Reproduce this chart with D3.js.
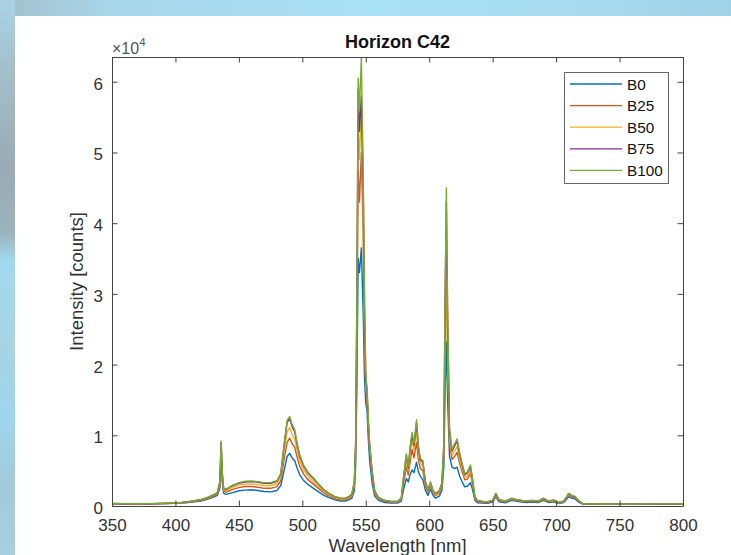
<!DOCTYPE html>
<html><head><meta charset="utf-8">
<script src="https://cdn.jsdelivr.net/npm/d3@7"></script>
<style>html,body{margin:0;padding:0;background:#fff;}svg{display:block;}text{font-family:"Liberation Sans",Arial,Helvetica,sans-serif;}</style>
</head><body>
<svg id="c" width="731" height="555"></svg>
<script>
const wavelengths = [350,360,370,380,390,400,405,410,415,420,
425,430,433,435,436,437,438,440,445,450,
455,460,465,470,475,480,483,486,488,490,
492,494,496,498,501,504,508,512,516,520,
525,530,534,537,539,541,542,543,544,545,
546.5,548,549,550,551,552,553,555,557,560,
565,570,575,578,580,582,583.5,585,586.5,588,
590,591.5,593,595,597,599,601,603,605,608,
610,611.5,612.5,613.5,614.5,616,618,620,622,624,
626,628,630,632.5,634,636,638,642,646,650,
652.5,655,660,665,669,673,677,681,686,690,
694,698,702,706,710,712.5,715,718,721,725,
735,750,765,780,790,800];

const B0 = [300,290,280,290,320,380,430,500,600,700,
950,1250,1500,2500,7000,3200,1800,1650,1900,2150,
2250,2300,2200,2050,2000,2200,2900,5300,7000,7450,
6800,6400,5300,4400,3600,3100,2600,2100,1600,1250,
900,700,700,900,1100,2200,5500,17000,35000,33000,
36500,27000,18000,14500,13500,9500,6500,3200,1400,800,
500,400,420,700,2500,3900,3400,4500,5100,4700,
6200,4800,4200,3700,2200,1500,2400,1500,1100,1400,
2200,5500,16000,23200,15000,7000,5500,5300,5500,4200,
3400,2700,2800,3300,2400,850,450,400,380,550,
1300,600,450,800,650,550,500,550,480,800,
500,600,350,500,1300,1100,1000,500,280,250,
240,240,240,230,230,230];

const B25 = [320,300,290,300,340,400,460,540,650,780,
1050,1400,1650,2900,7500,3700,2100,1950,2350,2600,
2750,2750,2650,2500,2500,2750,3600,7000,9000,9600,
8800,8300,6800,5600,4500,3800,3200,2600,2000,1500,
1100,850,850,1100,1350,2800,7000,23000,47500,43000,
50000,38000,23000,16400,15000,11000,8000,4200,1800,1000,
650,520,530,900,3400,5500,4400,6300,8000,6800,
9000,6500,5300,5000,2800,1900,2900,1900,1450,1800,
2700,7000,23000,34000,21000,8800,6600,7000,7600,6000,
4800,3700,3800,4600,3200,1050,620,520,500,650,
1500,750,570,950,780,680,620,680,590,950,
600,720,420,600,1550,1300,1150,600,310,270,
260,255,255,245,245,245];

const B50 = [335,315,305,315,360,425,490,580,700,840,
1120,1500,1780,3200,8500,4100,2300,2150,2650,2950,
3100,3120,3030,2900,2900,3150,4100,8200,10500,11100,
10100,9500,7800,6400,5100,4300,3600,2900,2200,1680,
1250,970,970,1250,1500,3100,8000,26500,54000,49000,
56000,40000,25000,17000,15600,11500,8500,4600,2000,1100,
720,580,590,1000,3900,6500,5000,7400,9300,7900,
10700,7500,6000,5700,3100,2050,3100,2000,1600,2000,
3000,7500,24000,35500,22000,9500,7200,7800,8400,6600,
5300,4100,4200,5100,3500,1150,700,580,550,720,
1650,820,630,1020,830,730,680,730,640,1020,
650,780,460,650,1650,1400,1250,650,330,285,
270,262,262,252,252,252];

const B75 = [345,325,315,325,375,445,510,610,735,880,
1180,1570,1860,3400,9000,4400,2450,2330,2870,3200,
3400,3450,3350,3200,3200,3500,4500,9100,11800,12400,
11200,10500,8600,7000,5650,4750,4000,3200,2430,1850,
1360,1070,1070,1360,1650,3400,8800,29000,59000,53000,
58000,45000,28000,18000,16200,11800,8800,4900,2150,1170,
780,630,630,1100,4300,7100,5400,8200,10100,8600,
11800,8200,6500,6200,3400,2230,3300,2150,1750,2150,
3200,8600,28500,43000,26500,10500,7800,8500,9200,7300,
5800,4450,4650,5600,3900,1270,780,630,600,780,
1750,870,680,1070,870,780,730,780,680,1070,
680,830,490,680,1750,1450,1300,680,340,295,
275,266,266,256,256,256];

const B100 = [350,330,320,330,380,450,520,620,750,900,
1200,1600,1900,3500,9200,4500,2500,2400,2950,3300,
3500,3550,3450,3300,3300,3600,4600,9300,12100,12650,
11500,10800,8800,7200,5800,4900,4100,3300,2500,1900,
1400,1100,1100,1400,1700,3500,9000,30000,60500,56000,
63400,47000,30000,18500,16800,12500,9000,5000,2200,1200,
800,650,650,1150,4500,7400,5600,8500,10400,8900,
12200,8500,6700,6400,3500,2300,3400,2200,1800,2200,
3300,9000,30000,45000,28000,11000,8000,8800,9500,7500,
6000,4600,4800,5800,4000,1300,800,650,620,800,
1800,900,700,1100,900,800,750,800,700,1100,
700,850,500,700,1800,1500,1350,700,350,300,
280,270,270,260,260,260];

const seriesNames = ["B0","B25","B50","B75","B100"];
const seriesValues = [B0,B25,B50,B75,B100];
const seriesColors = ["#0072BD","#D95319","#EDB120","#7E2F8E","#77AC30"];
const xTicks = [350,400,450,500,550,600,650,700,750,800];
const yTicks = [0,10000,20000,30000,40000,50000,60000];
const xDomain = [350,800];
const yDomain = [0,63500];
const titleText = "Horizon C42";
const xLabelText = "Wavelength [nm]";
const yLabelText = "Intensity [counts]";

const svg = d3.select("#c");
const defs = svg.append("defs");
const gl = defs.append("linearGradient").attr("id","gl").attr("x1",0).attr("y1",0).attr("x2",0).attr("y2",1);
[[0,"#aad2e4"],[0.12,"#a5c0cc"],[0.3,"#9aabb4"],[0.42,"#9cb3bd"],[0.47,"#a2d9ee"],[0.62,"#a8d3e4"],[0.75,"#9fd6ec"],[0.88,"#a2c9da"],[1,"#a9cfdf"]]
  .forEach(s=>gl.append("stop").attr("offset",s[0]).attr("stop-color",s[1]));
const gt = defs.append("linearGradient").attr("id","gt").attr("x1",0).attr("y1",0).attr("x2",1).attr("y2",0);
[[0,"#a3bfcc"],[0.15,"#a8d6ea"],[0.5,"#a8e0f5"],[0.8,"#a6dbef"],[1,"#a0d2e8"]]
  .forEach(s=>gt.append("stop").attr("offset",s[0]).attr("stop-color",s[1]));
svg.append("rect").attr("x",0).attr("y",0).attr("width",731).attr("height",16).attr("fill","url(#gt)");
svg.append("rect").attr("x",0).attr("y",0).attr("width",15).attr("height",555).attr("fill","url(#gl)");
svg.append("rect").attr("x",15).attr("y",16).attr("width",716).attr("height",539).attr("fill","#fff");

const L=112, R=683, T=57, B=506;
const x = d3.scaleLinear().domain(xDomain).range([L,R]);
const y = d3.scaleLinear().domain(yDomain).range([B,T]);

defs.append("clipPath").attr("id","clip").append("rect").attr("x",L).attr("y",T).attr("width",R-L).attr("height",B-T);

const plot = svg.append("g").attr("clip-path","url(#clip)");
const line = d3.line().x((d,i)=>x(wavelengths[i])).y(d=>y(d));
seriesValues.forEach((vals,k)=>{
  plot.append("path").datum(vals).attr("d",line).attr("fill","none")
    .attr("stroke",seriesColors[k]).attr("stroke-width",1.4).attr("stroke-linejoin","round");
});

const axisColor="#444";
function styleAxis(g){
  g.select(".domain").attr("stroke",axisColor).attr("stroke-width",1);
  g.selectAll(".tick line").attr("stroke",axisColor).attr("stroke-width",1);
  g.selectAll(".tick text").attr("fill","#333").style("font-size","17px").style("font-family",'"Liberation Sans",Arial,sans-serif');
}
const gx = svg.append("g").attr("transform",`translate(0,${B})`)
  .call(d3.axisBottom(x).tickValues(xTicks).tickSizeInner(-5.5).tickSizeOuter(0).tickPadding(13).tickFormat(d3.format("d")));
styleAxis(gx);
const gxt = svg.append("g").attr("transform",`translate(0,${T})`)
  .call(d3.axisTop(x).tickValues(xTicks).tickSizeInner(-5.5).tickSizeOuter(0).tickFormat(""));
styleAxis(gxt);
const gy = svg.append("g").attr("transform",`translate(${L},0)`)
  .call(d3.axisLeft(y).tickValues(yTicks).tickSizeInner(-5.5).tickSizeOuter(0).tickPadding(9).tickFormat(d=>d/10000));
styleAxis(gy);
gy.selectAll(".tick text").attr("dy","0.44em");
const gyr = svg.append("g").attr("transform",`translate(${R},0)`)
  .call(d3.axisRight(y).tickValues(yTicks).tickSizeInner(-5.5).tickSizeOuter(0).tickFormat(""));
styleAxis(gyr);

// exponent label
const ex = svg.append("text").attr("x",112).attr("y",53.5).attr("fill","#555").style("font-size","16px");
ex.append("tspan").text("\u00d710");
ex.append("tspan").attr("dy",-8).style("font-size","11.5px").text("4");

svg.append("text").attr("x",(L+R)/2).attr("y",48).attr("text-anchor","middle")
  .style("font-size","18px").style("font-weight","bold").attr("fill","#111").text(titleText);
svg.append("text").attr("x",(L+R)/2).attr("y",552).attr("text-anchor","middle")
  .style("font-size","18.5px").attr("fill","#333").text(xLabelText);
svg.append("text").attr("transform",`translate(83,${(T+B)/2}) rotate(-90)`).attr("text-anchor","middle")
  .style("font-size","18.5px").attr("fill","#333").text(yLabelText);

// legend
const lg = svg.append("g");
lg.append("rect").attr("x",564.5).attr("y",72.5).attr("width",104).attr("height",111)
  .attr("fill","#fff").attr("stroke","#666").attr("stroke-width",1);
seriesNames.forEach((n,k)=>{
  const cy = 84 + k*21.6;
  lg.append("line").attr("x1",570).attr("x2",622).attr("y1",cy).attr("y2",cy)
    .attr("stroke",seriesColors[k]).attr("stroke-width",1.3);
  lg.append("text").attr("x",627).attr("y",cy+5.5).style("font-size","15.3px").attr("fill","#111").text(n);
});
</script>
</body></html>
